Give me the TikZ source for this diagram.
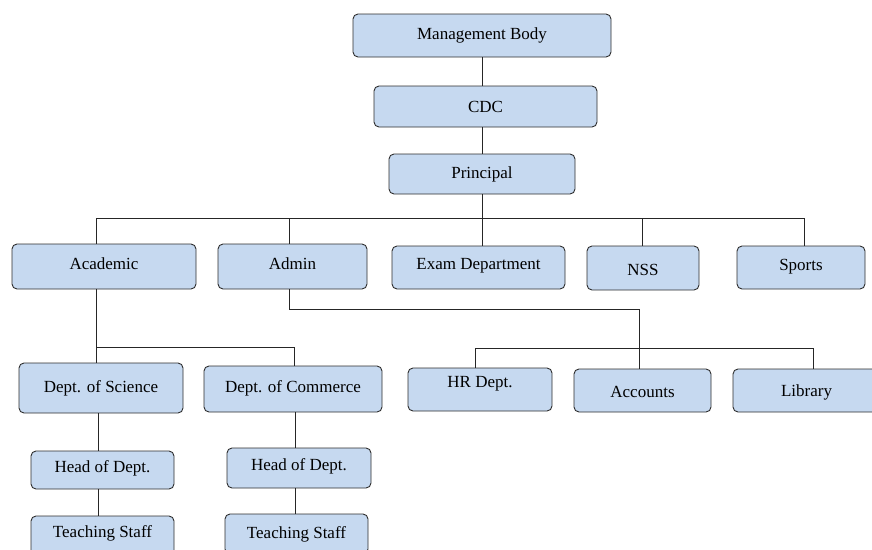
\documentclass[tikz,border=0pt]{standalone}
\usepackage{fontspec}
\setmainfont{Liberation Serif}
\definecolor{boxblue}{HTML}{C6D9F0}
\definecolor{edge}{HTML}{2E2E2E}
\newcommand\rbx[2]{\raisebox{#1}[\height][\depth]{#2}}
\begin{document}
\begin{tikzpicture}[x=1pt,y=-1pt,
  box/.style={draw=edge, fill=boxblue, rounded corners=5pt, line width=0.9pt,
    inner sep=0pt, font=\fontsize{17}{20}\selectfont},
  conn/.style={draw=black!85, line width=0.9pt}]
\useasboundingbox (0,0) rectangle (872,549);
\clip (0,0) rectangle (872,549);
% boxes
\node[box, minimum width=258pt, minimum height=43pt] (mb) at (482,35.5) {Management Body};
\node[box, minimum width=223pt, minimum height=41pt] (cdc) at (485.5,106.5) {CDC};
\node[box, minimum width=186pt, minimum height=40pt] (pr) at (482,174) {Principal};
\node[box, minimum width=184pt, minimum height=45pt] (acad) at (104,266.5) {\rbx{3pt}{Academic}};
\node[box, minimum width=149pt, minimum height=45pt] (admin) at (292.5,266.5) {\rbx{3pt}{Admin}};
\node[box, minimum width=173pt, minimum height=43pt] (exam) at (478.5,267.5) {\rbx{2pt}{Exam Department}};
\node[box, minimum width=112pt, minimum height=44pt] (nss) at (643,268) {\rbx{-2pt}{NSS}};
\node[box, minimum width=128pt, minimum height=43pt] (sports) at (801,267.5) {\rbx{1pt}{Sports}};
\node[box, minimum width=144pt, minimum height=43pt] (hr) at (480,389.5) {\rbx{6pt}{HR Dept.}};
\node[box, minimum width=137pt, minimum height=43pt] (acc) at (642.5,390.5) {\rbx{-1pt}{Accounts}};
\node[box, minimum width=147pt, minimum height=43pt] (lib) at (806.5,390.5) {\rbx{-2pt}{Library}};
\node[box, minimum width=164pt, minimum height=50pt] (sci) at (101,388) {Dept. of Science};
\node[box, minimum width=178pt, minimum height=46pt] (com) at (293,389) {\rbx{1pt}{Dept. of Commerce}};
\node[box, minimum width=143pt, minimum height=38pt] (h1) at (102.5,470) {\rbx{2pt}{Head of Dept.}};
\node[box, minimum width=144pt, minimum height=40pt] (h2) at (299,468) {\rbx{2pt}{Head of Dept.}};
\node[box, minimum width=143pt, minimum height=40pt] (t1) at (102.5,536) {\rbx{3pt}{Teaching Staff}};
\node[box, minimum width=143pt, minimum height=40pt] (t2) at (296.5,534) {Teaching Staff};
% junction coordinates
\coordinate (bL) at (96,218);
\coordinate (bR) at (804,218);
\coordinate (j2) at (289,218);
\coordinate (j3) at (482,218);
\coordinate (j4) at (642,218);
\coordinate (a1) at (289,309);
\coordinate (a2) at (639,309);
\coordinate (hL) at (475,348);
\coordinate (hR) at (813,348);
\coordinate (k1) at (96,347);
\coordinate (k2) at (294,347);
\coordinate (s1) at (98,0);
\coordinate (s2) at (295,0);
% connectors
\draw[conn] (mb.south) -- (mb.south |- cdc.north);
\draw[conn] (cdc.south -| mb.south) -- (pr.north -| mb.south);
\draw[conn] (pr.south -| mb.south) -- (mb.south |- bL);
\draw[conn] (acad.north -| bL) -- (bL) -- (bR) -- (sports.north -| bR);
\draw[conn] (j2) -- (admin.north -| j2);
\draw[conn] (j3) -- (exam.north -| j3);
\draw[conn] (j4) -- (nss.north -| j4);
\draw[conn] (admin.south -| a1) -- (a1) -- (a2) -- (acc.north -| a2);
\draw[conn] (hr.north -| hL) -- (hL) -- (hR) -- (lib.north -| hR);
\draw[conn] (acad.south -| k1) -- (k1) -- (k2) -- (com.north -| k2);
\draw[conn] (k1) -- (sci.north -| k1);
\draw[conn] (sci.south -| s1) -- (h1.north -| s1);
\draw[conn] (h1.south -| s1) -- (t1.north -| s1);
\draw[conn] (com.south -| s2) -- (h2.north -| s2);
\draw[conn] (h2.south -| s2) -- (t2.north -| s2);
\end{tikzpicture}
\end{document}
